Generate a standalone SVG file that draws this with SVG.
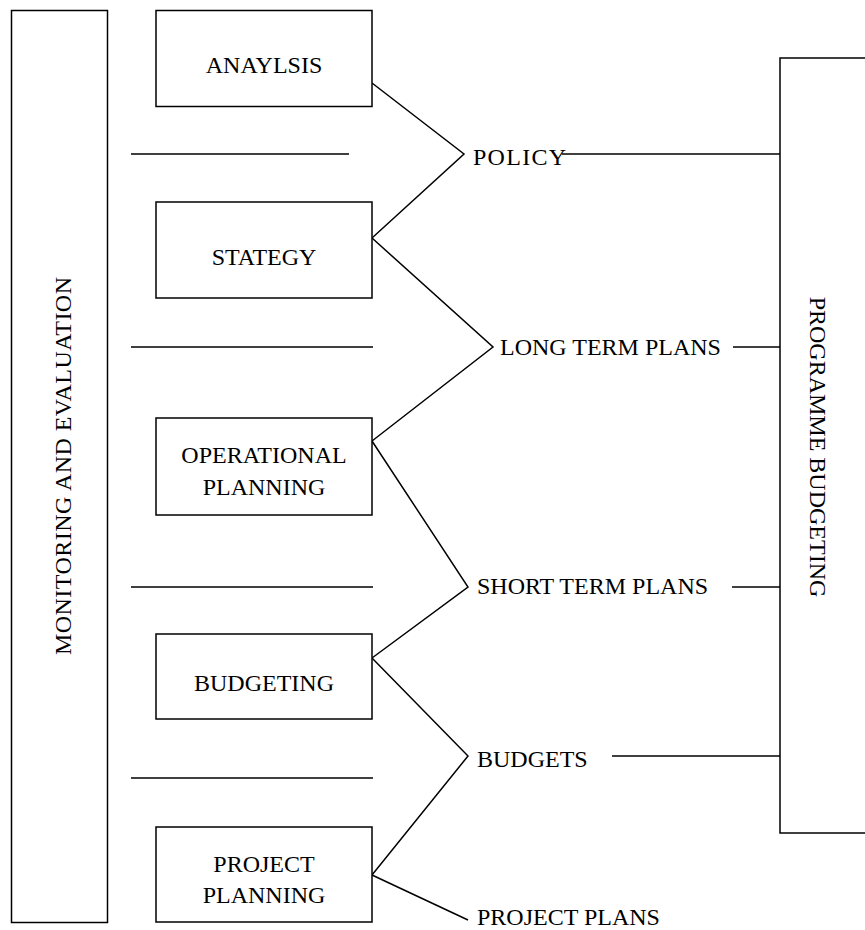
<svg xmlns="http://www.w3.org/2000/svg" width="865" height="930" viewBox="0 0 865 930">
<style>
  .box{fill:#fff;stroke:#000;stroke-width:1.5}
  .ln{fill:none;stroke:#000;stroke-width:1.5}
  .t{font-family:"Liberation Serif","Times New Roman",serif;font-size:24px;fill:#000}
  .c{text-anchor:middle}
</style>
<rect width="865" height="930" fill="#fff"/>
<g id="connectors">
  <line class="ln" x1="131" y1="154" x2="349" y2="154"/>
  <line class="ln" x1="131" y1="347" x2="373" y2="347"/>
  <line class="ln" x1="131" y1="587" x2="373" y2="587"/>
  <line class="ln" x1="131" y1="778" x2="373" y2="778"/>
  <polyline class="ln" points="372,83 464,154 372,238"/>
  <polyline class="ln" points="372,238 493,347 372,441"/>
  <polyline class="ln" points="372,441 468,587 372,658"/>
  <polyline class="ln" points="372,658 468,756 372,875"/>
  <polyline class="ln" points="372,875 468,920"/>
  <line class="ln" x1="562" y1="154" x2="780" y2="154"/>
  <line class="ln" x1="733" y1="347" x2="780" y2="347"/>
  <line class="ln" x1="732" y1="587" x2="780" y2="587"/>
  <line class="ln" x1="612" y1="756" x2="780" y2="756"/>
</g>
<g id="monitoring">
  <rect class="box" x="11.5" y="10.5" width="96" height="912"/>
  <text class="t c" transform="translate(71,466) rotate(-90)" textLength="378" lengthAdjust="spacing">MONITORING AND EVALUATION</text>
</g>
<g id="programme-budgeting">
  <rect class="box" x="780" y="58" width="120" height="775"/>
  <text class="t c" transform="translate(810,447) rotate(90)">PROGRAMME BUDGETING</text>
</g>
<g id="analysis">
  <rect class="box" x="156" y="10.5" width="216" height="96"/>
  <text class="t c" x="264" y="73">ANAYLSIS</text>
</g>
<g id="strategy">
  <rect class="box" x="156" y="202" width="216" height="96"/>
  <text class="t c" x="264" y="265">STATEGY</text>
</g>
<g id="operational-planning">
  <rect class="box" x="156" y="418" width="216" height="97"/>
  <text class="t c" x="264" y="463">OPERATIONAL</text>
  <text class="t c" x="264" y="495">PLANNING</text>
</g>
<g id="budgeting">
  <rect class="box" x="156" y="634" width="216" height="85"/>
  <text class="t c" x="264" y="691">BUDGETING</text>
</g>
<g id="project-planning">
  <rect class="box" x="156" y="827" width="216" height="95"/>
  <text class="t c" x="264" y="872">PROJECT</text>
  <text class="t c" x="264" y="903">PLANNING</text>
</g>
<g id="policy"><text class="t" x="473" y="165" textLength="93" lengthAdjust="spacing">POLICY</text></g>
<g id="long-term-plans"><text class="t" x="500" y="355">LONG TERM PLANS</text></g>
<g id="short-term-plans"><text class="t" x="477" y="594">SHORT TERM PLANS</text></g>
<g id="budgets"><text class="t" x="477" y="767">BUDGETS</text></g>
<g id="project-plans"><text class="t" x="477" y="925">PROJECT PLANS</text></g>
</svg>
